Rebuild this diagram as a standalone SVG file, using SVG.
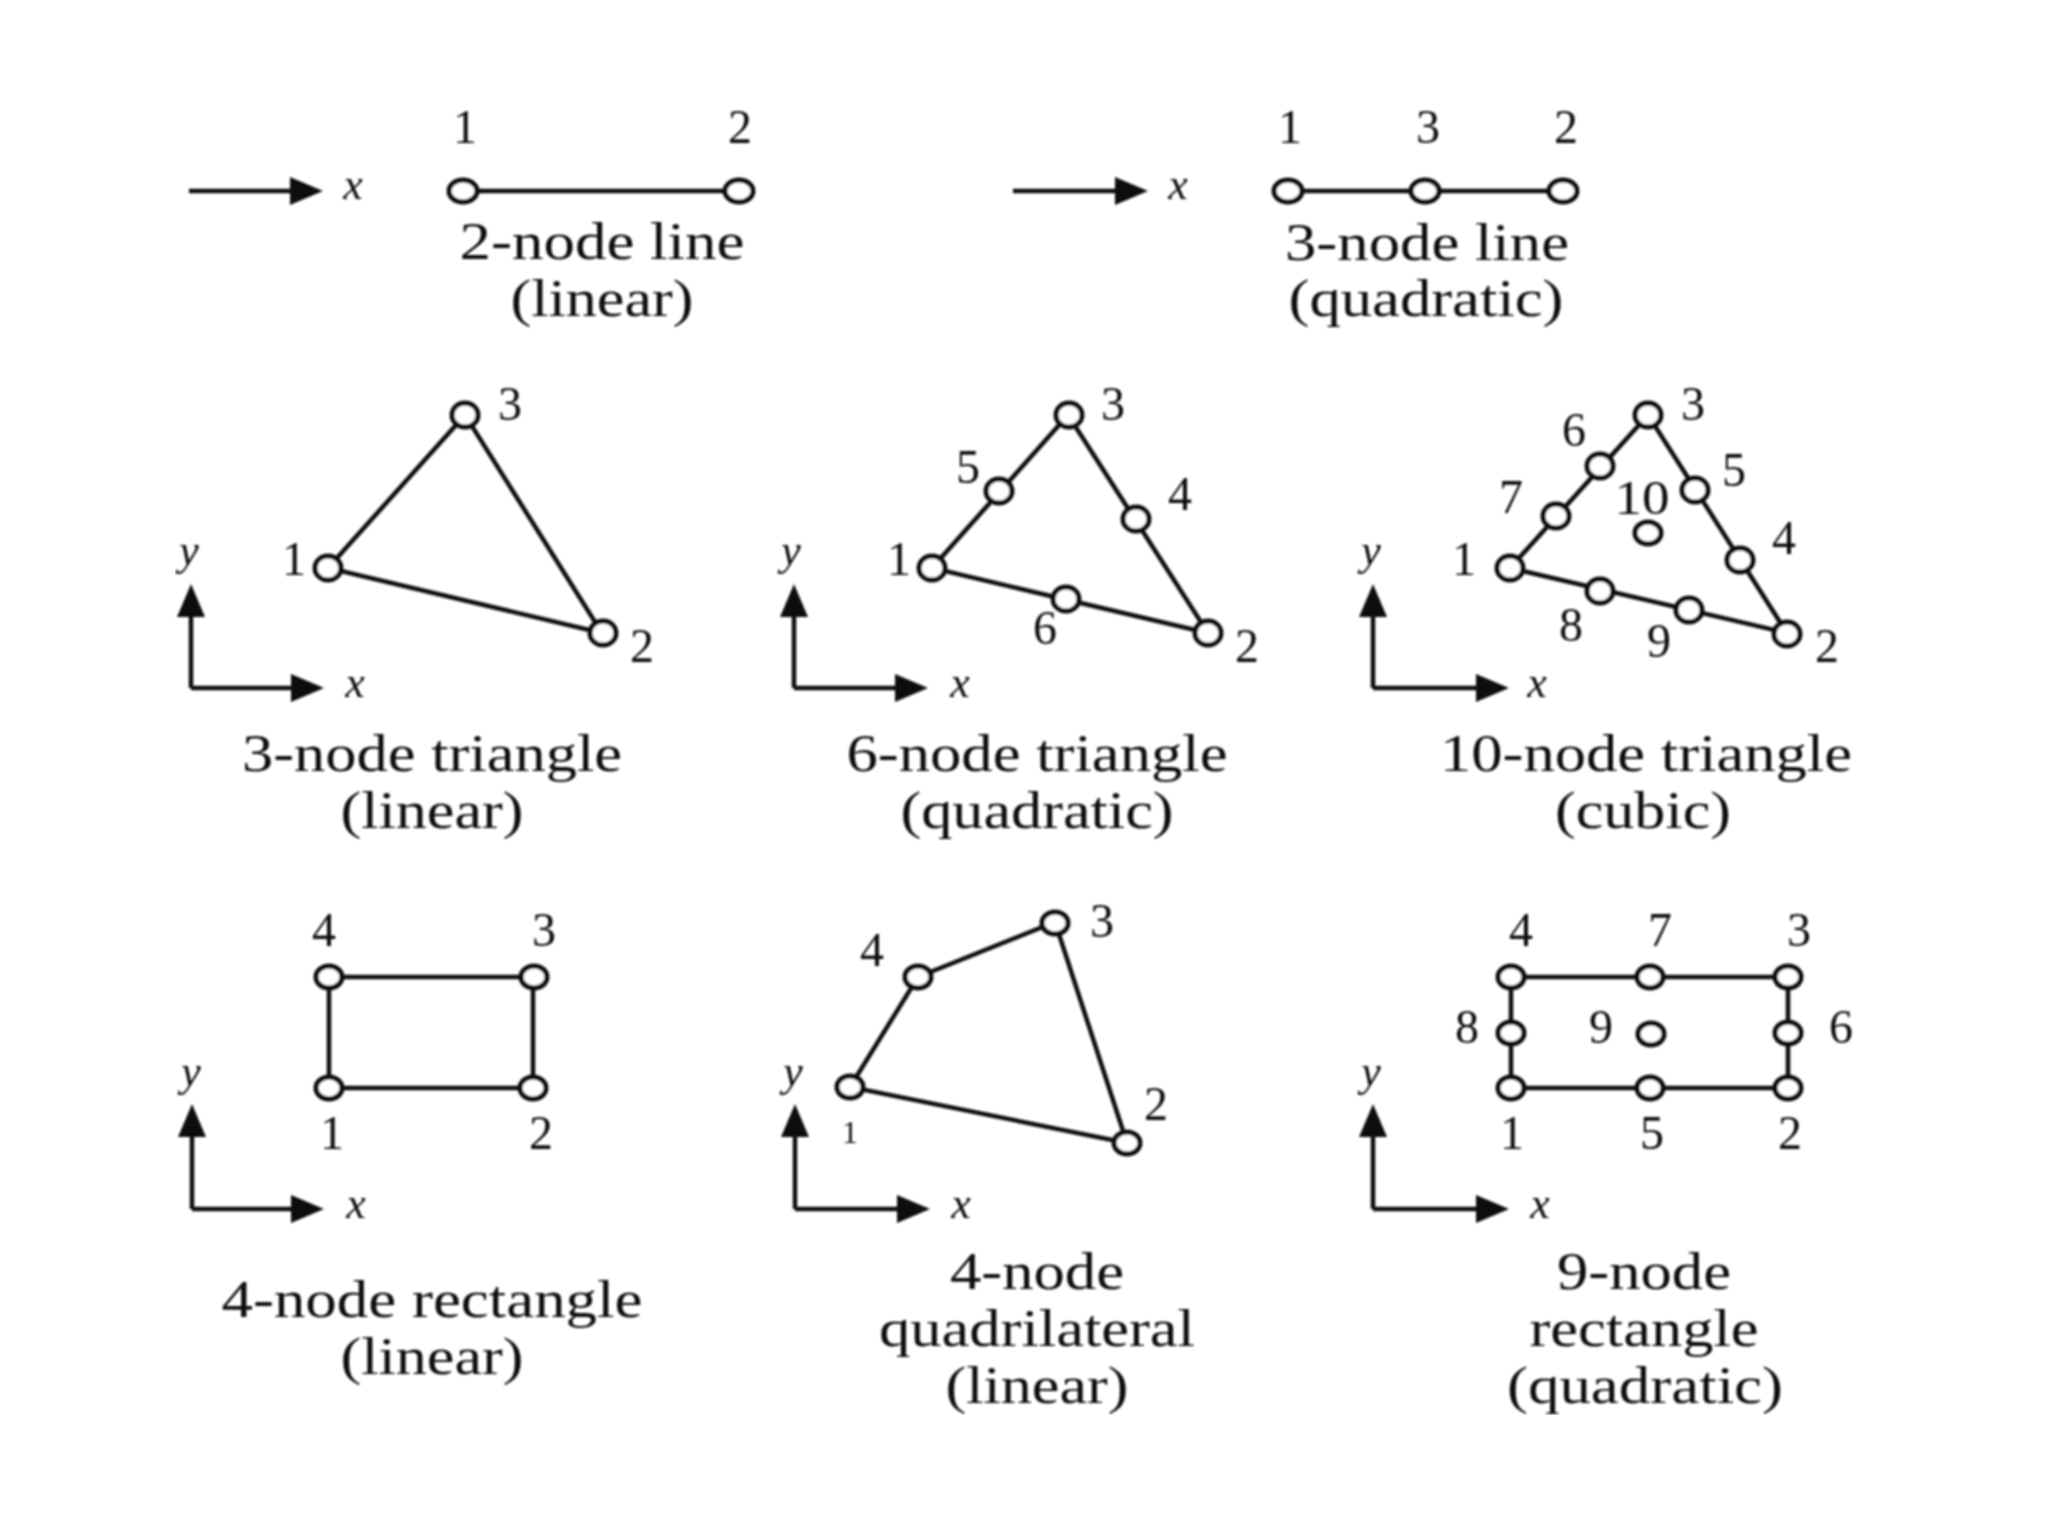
<svg xmlns="http://www.w3.org/2000/svg" width="2048" height="1536" viewBox="0 0 2048 1536">
<style>
text{font-family:"Liberation Serif","Times New Roman",serif;fill:#111;text-anchor:middle}
.d{font-size:48px}
.c{font-size:52px}
.a{font-size:44px;font-style:italic}
.n{fill:#fff;stroke:#111;stroke-width:5}
.e{stroke:#111;stroke-width:4.5;fill:none}
.r{stroke:#111;stroke-width:4.5;fill:none;marker-end:url(#h)}
</style>
<defs>
<marker id="h" markerUnits="userSpaceOnUse" markerWidth="34" markerHeight="28" refX="0" refY="14" orient="auto"><path d="M0 0L33 14L0 28Z" fill="#111"/></marker>
<filter id="b" x="0" y="0" width="1" height="1" filterUnits="objectBoundingBox"><feGaussianBlur stdDeviation="0.9"/></filter>
</defs>
<rect width="2048" height="1536" fill="#fff"/>
<g filter="url(#b)">
<g id="connectors">
<path class="e" d="M463 191H739M1288 191H1563"/>
<path class="e" d="M328 568L465 415L602 633Z"/>
<path class="e" d="M932 568L1068 415L1208 633Z"/>
<path class="e" d="M1510 568L1648 415L1787 633Z"/>
<path class="e" d="M329 1088H533V977H329Z"/>
<path class="e" d="M850 1087L918 977L1055 922L1127 1143Z"/>
<path class="e" d="M1511 1088H1788V977H1511Z"/>
<path class="r" d="M189 191H290"/>
<path class="r" d="M1013 191H1115"/>
<path class="r" d="M191 688V617"/><path class="r" d="M191 688H291"/>
<path class="r" d="M794 688V617"/><path class="r" d="M794 688H895"/>
<path class="r" d="M1373 688V617"/><path class="r" d="M1373 688H1476"/>
<path class="r" d="M192 1209V1137"/><path class="r" d="M192 1209H291"/>
<path class="r" d="M795 1209V1137"/><path class="r" d="M795 1209H897"/>
<path class="r" d="M1373 1209V1137"/><path class="r" d="M1373 1209H1476"/>
</g>
<g id="axis-labels">
<text class="a" x="353" y="199">x</text><text class="a" x="1178" y="199">x</text>
<text class="a" x="355" y="697">x</text><text class="a" x="960" y="697">x</text><text class="a" x="1537" y="697">x</text>
<text class="a" x="189" y="565">y</text><text class="a" x="791" y="565">y</text><text class="a" x="1371" y="565">y</text>
<text class="a" x="356" y="1218">x</text><text class="a" x="961" y="1218">x</text><text class="a" x="1540" y="1218">x</text>
<text class="a" x="191" y="1086">y</text><text class="a" x="793" y="1086">y</text><text class="a" x="1371" y="1086">y</text>
</g>

<g id="line2">
<g id="line2-n1"><ellipse class="n" cx="463" cy="191" rx="14" ry="11"/><text class="d" x="465" y="143">1</text></g>
<g id="line2-n2"><ellipse class="n" cx="739" cy="191" rx="14" ry="11"/><text class="d" x="740" y="143">2</text></g>
<text class="c" x="602" y="259" textLength="285" lengthAdjust="spacingAndGlyphs">2-node line</text>
<text class="c" x="602" y="316" textLength="183" lengthAdjust="spacingAndGlyphs">(linear)</text>
</g>
<g id="line3">
<g id="line3-n1"><ellipse class="n" cx="1288" cy="191" rx="14" ry="11"/><text class="d" x="1290" y="143">1</text></g>
<g id="line3-n3"><ellipse class="n" cx="1425" cy="191" rx="14" ry="11"/><text class="d" x="1428" y="143">3</text></g>
<g id="line3-n2"><ellipse class="n" cx="1563" cy="191" rx="14" ry="11"/><text class="d" x="1566" y="143">2</text></g>
<text class="c" x="1427" y="260" textLength="284" lengthAdjust="spacingAndGlyphs">3-node line</text>
<text class="c" x="1426" y="316" textLength="275" lengthAdjust="spacingAndGlyphs">(quadratic)</text>
</g>

<g id="tri3">
<g id="tri3-n1"><ellipse class="n" cx="328" cy="568" rx="13" ry="12"/><text class="d" x="294" y="575">1</text></g>
<g id="tri3-n2"><ellipse class="n" cx="603" cy="633" rx="13" ry="12"/><text class="d" x="642" y="662">2</text></g>
<g id="tri3-n3"><ellipse class="n" cx="465" cy="415" rx="13" ry="12"/><text class="d" x="510" y="420">3</text></g>
<text class="c" x="432" y="771" textLength="380" lengthAdjust="spacingAndGlyphs">3-node triangle</text>
<text class="c" x="432" y="828" textLength="183" lengthAdjust="spacingAndGlyphs">(linear)</text>
</g>
<g id="tri6">
<g id="tri6-n1"><ellipse class="n" cx="932" cy="568" rx="13" ry="12"/><text class="d" x="899" y="575">1</text></g>
<g id="tri6-n2"><ellipse class="n" cx="1208" cy="633" rx="13" ry="12"/><text class="d" x="1247" y="662">2</text></g>
<g id="tri6-n3"><ellipse class="n" cx="1069" cy="415" rx="13" ry="12"/><text class="d" x="1113" y="420">3</text></g>
<g id="tri6-n4"><ellipse class="n" cx="1136" cy="519" rx="13" ry="12"/><text class="d" x="1180" y="510">4</text></g>
<g id="tri6-n5"><ellipse class="n" cx="999" cy="491" rx="13" ry="12"/><text class="d" x="968" y="483">5</text></g>
<g id="tri6-n6"><ellipse class="n" cx="1066" cy="599" rx="13" ry="12"/><text class="d" x="1045" y="644">6</text></g>
<text class="c" x="1037" y="771" textLength="381" lengthAdjust="spacingAndGlyphs">6-node triangle</text>
<text class="c" x="1037" y="828" textLength="273" lengthAdjust="spacingAndGlyphs">(quadratic)</text>
</g>
<g id="tri10">
<g id="tri10-n1"><ellipse class="n" cx="1510" cy="568" rx="13" ry="12"/><text class="d" x="1464" y="575">1</text></g>
<g id="tri10-n2"><ellipse class="n" cx="1787" cy="634" rx="13" ry="12"/><text class="d" x="1827" y="662">2</text></g>
<g id="tri10-n3"><ellipse class="n" cx="1648" cy="415" rx="13" ry="12"/><text class="d" x="1693" y="420">3</text></g>
<g id="tri10-n4"><ellipse class="n" cx="1740" cy="560" rx="13" ry="12"/><text class="d" x="1784" y="554">4</text></g>
<g id="tri10-n5"><ellipse class="n" cx="1695" cy="490" rx="13" ry="12"/><text class="d" x="1734" y="486">5</text></g>
<g id="tri10-n6"><ellipse class="n" cx="1600" cy="466" rx="13" ry="12"/><text class="d" x="1574" y="446">6</text></g>
<g id="tri10-n7"><ellipse class="n" cx="1556" cy="516" rx="13" ry="12"/><text class="d" x="1511" y="513">7</text></g>
<g id="tri10-n8"><ellipse class="n" cx="1600" cy="591" rx="13" ry="12"/><text class="d" x="1571" y="641">8</text></g>
<g id="tri10-n9"><ellipse class="n" cx="1689" cy="610" rx="13" ry="12"/><text class="d" x="1659" y="657">9</text></g>
<g id="tri10-n10"><ellipse class="n" cx="1648" cy="533" rx="13" ry="11"/><text class="d" x="1642" y="514" textLength="55" lengthAdjust="spacingAndGlyphs">10</text></g>
<text class="c" x="1646" y="771" textLength="412" lengthAdjust="spacingAndGlyphs">10-node triangle</text>
<text class="c" x="1643" y="828" textLength="176" lengthAdjust="spacingAndGlyphs">(cubic)</text>
</g>

<g id="rect4">
<g id="rect4-n1"><ellipse class="n" cx="329" cy="1088" rx="13" ry="11"/><text class="d" x="332" y="1149">1</text></g>
<g id="rect4-n2"><ellipse class="n" cx="533" cy="1088" rx="13" ry="11"/><text class="d" x="541" y="1149">2</text></g>
<g id="rect4-n3"><ellipse class="n" cx="534" cy="977" rx="13" ry="11"/><text class="d" x="544" y="946">3</text></g>
<g id="rect4-n4"><ellipse class="n" cx="329" cy="977" rx="13" ry="11"/><text class="d" x="324" y="946">4</text></g>
<text class="c" x="432" y="1317" textLength="421" lengthAdjust="spacingAndGlyphs">4-node rectangle</text>
<text class="c" x="432" y="1374" textLength="183" lengthAdjust="spacingAndGlyphs">(linear)</text>
</g>
<g id="quad4">
<g id="quad4-n1"><ellipse class="n" cx="850" cy="1087" rx="13" ry="11"/><text x="850" y="1143" font-size="32">1</text></g>
<g id="quad4-n2"><ellipse class="n" cx="1127" cy="1143" rx="13" ry="11"/><text class="d" x="1156" y="1120">2</text></g>
<g id="quad4-n3"><ellipse class="n" cx="1055" cy="923" rx="13" ry="11"/><text class="d" x="1102" y="937">3</text></g>
<g id="quad4-n4"><ellipse class="n" cx="918" cy="977" rx="13" ry="11"/><text class="d" x="872" y="966">4</text></g>
<text class="c" x="1037" y="1289" textLength="174" lengthAdjust="spacingAndGlyphs">4-node</text>
<text class="c" x="1037" y="1346" textLength="316" lengthAdjust="spacingAndGlyphs">quadrilateral</text>
<text class="c" x="1037" y="1403" textLength="183" lengthAdjust="spacingAndGlyphs">(linear)</text>
</g>
<g id="rect9">
<g id="rect9-n1"><ellipse class="n" cx="1511" cy="1088" rx="13" ry="11"/><text class="d" x="1512" y="1149">1</text></g>
<g id="rect9-n2"><ellipse class="n" cx="1788" cy="1088" rx="13" ry="11"/><text class="d" x="1790" y="1149">2</text></g>
<g id="rect9-n3"><ellipse class="n" cx="1788" cy="977" rx="13" ry="11"/><text class="d" x="1799" y="946">3</text></g>
<g id="rect9-n4"><ellipse class="n" cx="1511" cy="977" rx="13" ry="11"/><text class="d" x="1521" y="946">4</text></g>
<g id="rect9-n5"><ellipse class="n" cx="1650" cy="1088" rx="13" ry="11"/><text class="d" x="1652" y="1149">5</text></g>
<g id="rect9-n6"><ellipse class="n" cx="1788" cy="1033" rx="13" ry="11"/><text class="d" x="1841" y="1043">6</text></g>
<g id="rect9-n7"><ellipse class="n" cx="1650" cy="977" rx="13" ry="11"/><text class="d" x="1660" y="946">7</text></g>
<g id="rect9-n8"><ellipse class="n" cx="1511" cy="1033" rx="13" ry="11"/><text class="d" x="1467" y="1043">8</text></g>
<g id="rect9-n9"><ellipse class="n" cx="1651" cy="1034" rx="13" ry="11"/><text class="d" x="1601" y="1043">9</text></g>
<text class="c" x="1644" y="1289" textLength="174" lengthAdjust="spacingAndGlyphs">9-node</text>
<text class="c" x="1644" y="1346" textLength="229" lengthAdjust="spacingAndGlyphs">rectangle</text>
<text class="c" x="1645" y="1403" textLength="276" lengthAdjust="spacingAndGlyphs">(quadratic)</text>
</g>
</g>
</svg>
